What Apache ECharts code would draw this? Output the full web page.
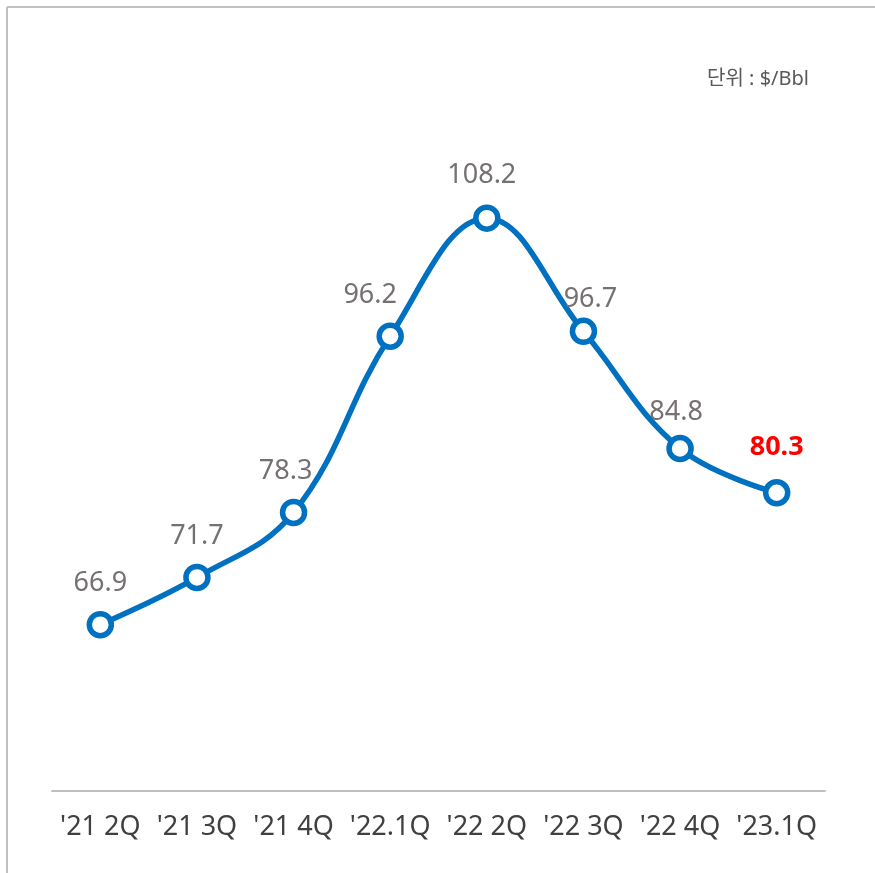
<!DOCTYPE html>
<html>
<head>
<meta charset="utf-8">
<script src="https://cdn.jsdelivr.net/npm/echarts@6/dist/echarts.min.js"></script>
<style>
  html, body { margin: 0; padding: 0; background: #fff; }
  #chart { width: 875px; height: 873px; }
</style>
</head>
<body>
<div id="chart"></div>
<script>
// quarters and Dubai crude price ($/Bbl)
const quarters = ["'21 2Q", "'21 3Q", "'21 4Q", "'22.1Q", "'22 2Q", "'22 3Q", "'22 4Q", "'23.1Q"];
const prices = [66.9, 71.7, 78.3, 96.2, 108.2, 96.7, 84.8, 80.3];
const unitText = '단위 : $/Bbl';

const font = '"Noto Sans", "Noto Sans CJK KR", sans-serif';
// small nudges so labels sit like in the original
const labelShift = [[0, 0], [0, 0], [-8, 0], [-20, 0], [-5, -2], [7, 9], [-4, 5], [0, -4]];

const chart = echarts.init(document.getElementById('chart'));

const seriesData = prices.map((v, i) => {
    const last = i === prices.length - 1;
    return {
        value: v,
        label: {
            offset: labelShift[i],
            color: last ? '#ff0000' : '#767171',
            fontWeight: last ? 'bold' : 'normal'
        }
    };
});

chart.setOption({
    animation: false,
    title: {
        text: unitText,
        right: 61,
        top: 64,
        textStyle: { fontFamily: font, fontSize: 20, fontWeight: 'normal', color: '#595959' }
    },
    graphic: [
        { type: 'line', shape: { x1: 7, y1: 7, x2: 875, y2: 7 }, style: { stroke: '#c0c0c0', lineWidth: 2 } },
        { type: 'line', shape: { x1: 7, y1: 7, x2: 7, y2: 873 }, style: { stroke: '#c0c0c0', lineWidth: 2 } }
    ],
    grid: { left: 52, right: 50, top: 102, bottom: 82 },
    xAxis: {
        type: 'category',
        data: quarters,
        boundaryGap: true,
        axisLine: { lineStyle: { color: '#bfbfbf', width: 2 } },
        axisTick: { show: false },
        axisLabel: { fontFamily: font, fontSize: 27, color: '#404040', margin: 23, interval: 0 }
    },
    yAxis: {
        type: 'value',
        min: 50,
        max: 120,
        show: false
    },
    series: [{
        type: 'line',
        data: seriesData,
        smooth: 0.4,
        symbol: 'circle',
        symbolSize: 22,
        lineStyle: { color: '#0070c0', width: 5.5 },
        itemStyle: { color: '#ffffff', borderColor: '#0070c0', borderWidth: 5.5 },
        label: {
            show: true,
            position: 'top',
            distance: 14,
            fontFamily: font,
            fontSize: 27
        }
    }]
});
</script>
</body>
</html>
